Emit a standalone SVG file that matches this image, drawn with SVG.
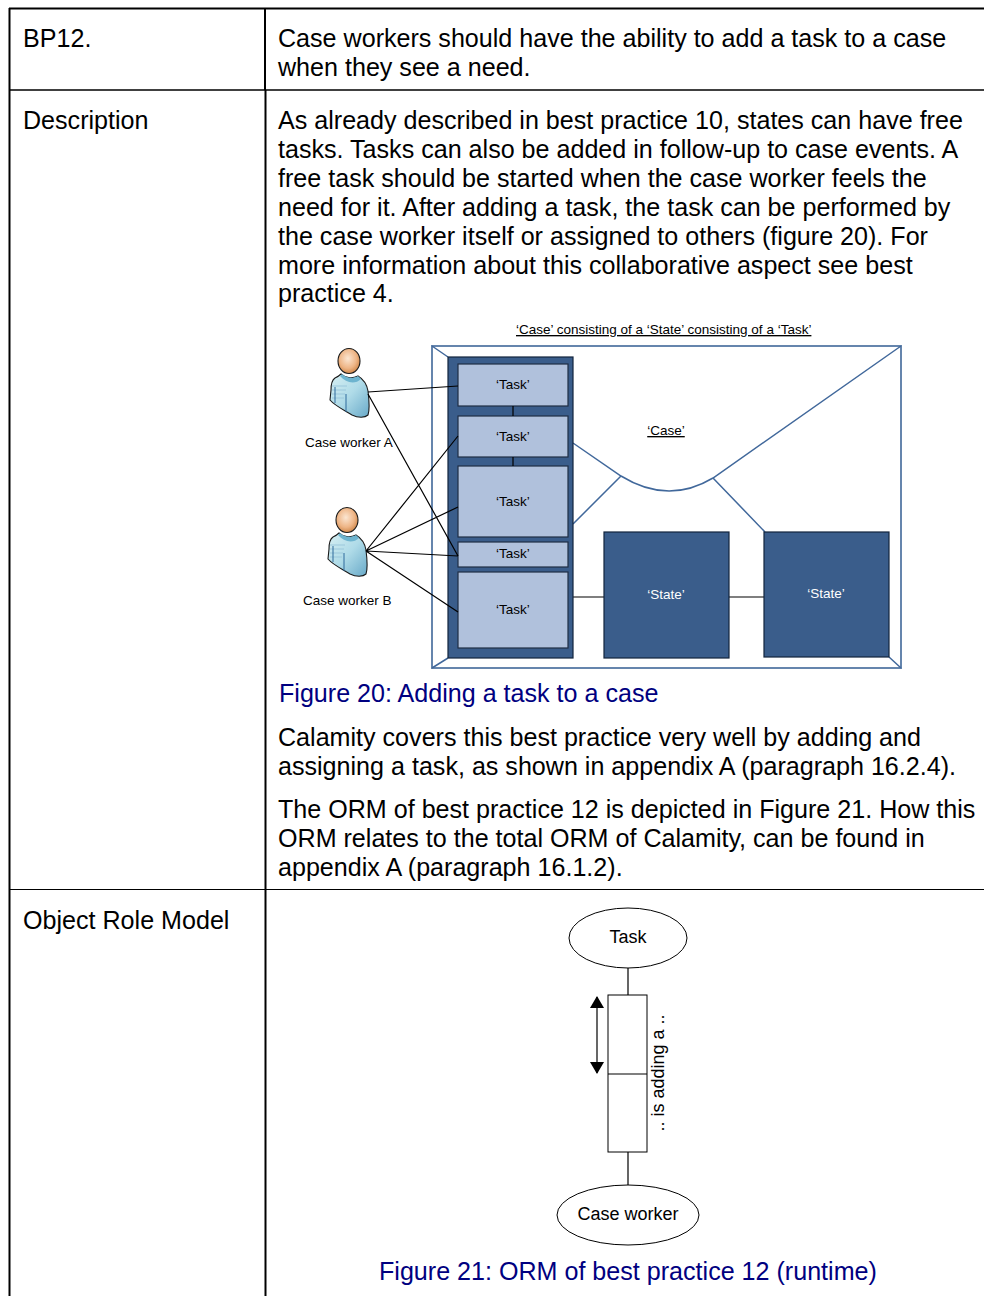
<svg xmlns="http://www.w3.org/2000/svg" width="984" height="1296" viewBox="0 0 984 1296">
<style>
text{font-family:"Liberation Sans",Arial,sans-serif;fill:#000}
.b{font-size:25.1px}
.cap{font-size:25.1px;fill:#000080}
.s{font-size:13.5px}
.w{fill:#fff}
.u{text-decoration:underline}
.m{text-anchor:middle}
.grid{stroke:#000;fill:none}
.blue{stroke:#41689b;stroke-width:1.5;fill:none}
.outer{stroke:#6585ad;stroke-width:2;fill:#fff}
.task{fill:#b0c1dc;stroke:#1f2d44;stroke-width:1.2}
.state{fill:#3a5d8b;stroke:#12233c;stroke-width:1.2}
.k{stroke:#000;stroke-width:1.2;fill:none}
.orm{fill:#fff;stroke:#000;stroke-width:1}
</style>
<defs>
<linearGradient id="body" x1="0" y1="0" x2="1" y2="1"><stop offset="0" stop-color="#d8f0f3"/><stop offset="0.5" stop-color="#afdbe8"/><stop offset="1" stop-color="#68a9c8"/></linearGradient>
<radialGradient id="head" cx="0.45" cy="0.4" r="0.65"><stop offset="0" stop-color="#fbe6d2"/><stop offset="0.6" stop-color="#eeb586"/><stop offset="1" stop-color="#c97f40"/></radialGradient>
<g id="person">
<path d="M-14,17 C-17,19 -18,24 -18,29 L-19,39 C-14,45 -3,50 3,54 C9,57 16,57 19,54 C21,48 20,38 19,30 C18,24 14,18 9,15 C3,18 -4,17 -8,13 C-10,15 -12,16 -14,17Z" fill="url(#body)" stroke="#1a1a1a" stroke-width="1.1"/>
<path d="M-7,13 C-3,17 4,18 9,15 L12,18 C6,24 -3,22 -9,15Z" fill="#6db4cf"/>
<path d="M-17,25 H-2 M-17,29 H-3 M-17,33 H-4 M-17,37 H-5" stroke="#9cc7dc" stroke-width="1.2" fill="none"/>
<path d="M-14,26 V42 M-3,33 V51" stroke="#2f6a9c" stroke-width="1" fill="none"/>
<ellipse cx="0" cy="0" rx="11" ry="12.500" fill="url(#head)" stroke="#1a1a1a" stroke-width="1.1"/>
</g>
<marker id="ah" viewBox="0 0 12 14" refX="11" refY="7" markerWidth="12" markerHeight="14" markerUnits="userSpaceOnUse" orient="auto-start-reverse"><path d="M0,0 L12,7 L0,14Z" fill="#000"/></marker>
</defs>

<g id="table">
<path class="grid" stroke-width="2" d="M9,8.500H984M265,8V90M9.500,8V1296M265.500,90V1296"/>
<path class="grid" stroke-width="1.500" d="M9,90H984"/>
<path class="grid" stroke-width="1" d="M9,889.500H984"/>
<text class="b" x="23" y="47">BP12.</text>
<text class="b" x="23" y="129">Description</text>
<text class="b" x="23" y="929">Object Role Model</text>
<text class="b" x="278" y="47">Case workers should have the ability to add a task to a case</text>
<text class="b" x="278" y="76">when they see a need.</text>
<text class="b" x="278" y="129">As already described in best practice 10, states can have free</text>
<text class="b" x="278" y="158">tasks. Tasks can also be added in follow-up to case events. A</text>
<text class="b" x="278" y="187">free task should be started when the case worker feels the</text>
<text class="b" x="278" y="216">need for it. After adding a task, the task can be performed by</text>
<text class="b" x="278" y="245">the case worker itself or assigned to others (figure 20). For</text>
<text class="b" x="278" y="274">more information about this collaborative aspect see best</text>
<text class="b" x="278" y="302">practice 4.</text>
<text class="cap" x="279" y="702">Figure 20: Adding a task to a case</text>
<text class="b" x="278" y="746">Calamity covers this best practice very well by adding and</text>
<text class="b" x="278" y="775">assigning a task, as shown in appendix A (paragraph 16.2.4).</text>
<text class="b" x="278" y="818">The ORM of best practice 12 is depicted in Figure 21. How this</text>
<text class="b" x="278" y="847">ORM relates to the total ORM of Calamity, can be found in</text>
<text class="b" x="278" y="876">appendix A (paragraph 16.1.2).</text>
<text class="cap" x="379" y="1280">Figure 21: ORM of best practice 12 (runtime)</text>
</g>

<text class="s u" x="516" y="334">‘Case’ consisting of a ‘State’ consisting of a ‘Task’</text>

<g id="case">
<rect class="outer" x="432" y="346" width="469" height="322"/>
<path class="blue" d="M432,346L448,357M432,668L448,658M889,657L901,668"/>
<text class="s u m" x="666" y="435">‘Case’</text>
</g>

<g id="callout">
<path class="blue" d="M573,443L621,476Q668,505 713,478L901,346M573,524L621,476M713,478L765,532"/>
</g>

<g id="connectors">
<path class="k" d="M573,597H604M729,597H764"/>
</g>

<g id="state-column"><rect class="state" x="448" y="357" width="125" height="301"/></g>
<g id="task-1"><rect class="task" x="458" y="364" width="110" height="42"/><text class="s m" x="513" y="389">‘Task’</text></g>
<g id="task-2"><rect class="task" x="458" y="416" width="110" height="41"/><text class="s m" x="513" y="441">‘Task’</text></g>
<g id="task-3"><rect class="task" x="458" y="466" width="110" height="71"/><text class="s m" x="513" y="506">‘Task’</text></g>
<g id="task-4"><rect class="task" x="458" y="542" width="110" height="25"/><text class="s m" x="513" y="558">‘Task’</text></g>
<g id="task-5"><rect class="task" x="458" y="572" width="110" height="76"/><text class="s m" x="513" y="614">‘Task’</text></g>
<g id="task-links"><path class="k" d="M513,406V416M513,457V466"/></g>
<g id="state-2"><rect class="state" x="604" y="532" width="125" height="126"/><text class="s w m" x="666" y="599">‘State’</text></g>
<g id="state-3"><rect class="state" x="764" y="532" width="125" height="125"/><text class="s w m" x="826" y="598">‘State’</text></g>

<g id="person-a"><use href="#person" x="349" y="361"/><text class="s" x="305" y="447">Case worker A</text></g>
<g id="person-b"><use href="#person" x="347" y="520"/><text class="s" x="303" y="605">Case worker B</text></g>

<g id="worker-connectors">
<path class="k" d="M368,392L458,386M368,394L458,556M366,551L458,436M366,551L458,507M366,551L458,556M366,551L458,612"/>
</g>

<g id="orm-connectors">
<path class="k" stroke-width="1" d="M628,968V995M628,1152V1185"/>
<path class="k" d="M597,997V1073" marker-start="url(#ah)" marker-end="url(#ah)"/>
</g>
<g id="orm-task"><ellipse class="orm" cx="628" cy="938" rx="59" ry="30"/><text class="m" font-size="18" x="628" y="943">Task</text></g>
<g id="orm-worker"><ellipse class="orm" cx="628" cy="1215" rx="71" ry="30"/><text class="m" font-size="18" x="628" y="1220">Case worker</text></g>
<g id="orm-role">
<rect class="orm" x="608" y="995" width="39" height="157"/>
<path class="k" d="M608,1074H647"/>
<text class="m" font-size="18" transform="translate(664,1073) rotate(-90)">.. is adding a ..</text>
</g>
</svg>
